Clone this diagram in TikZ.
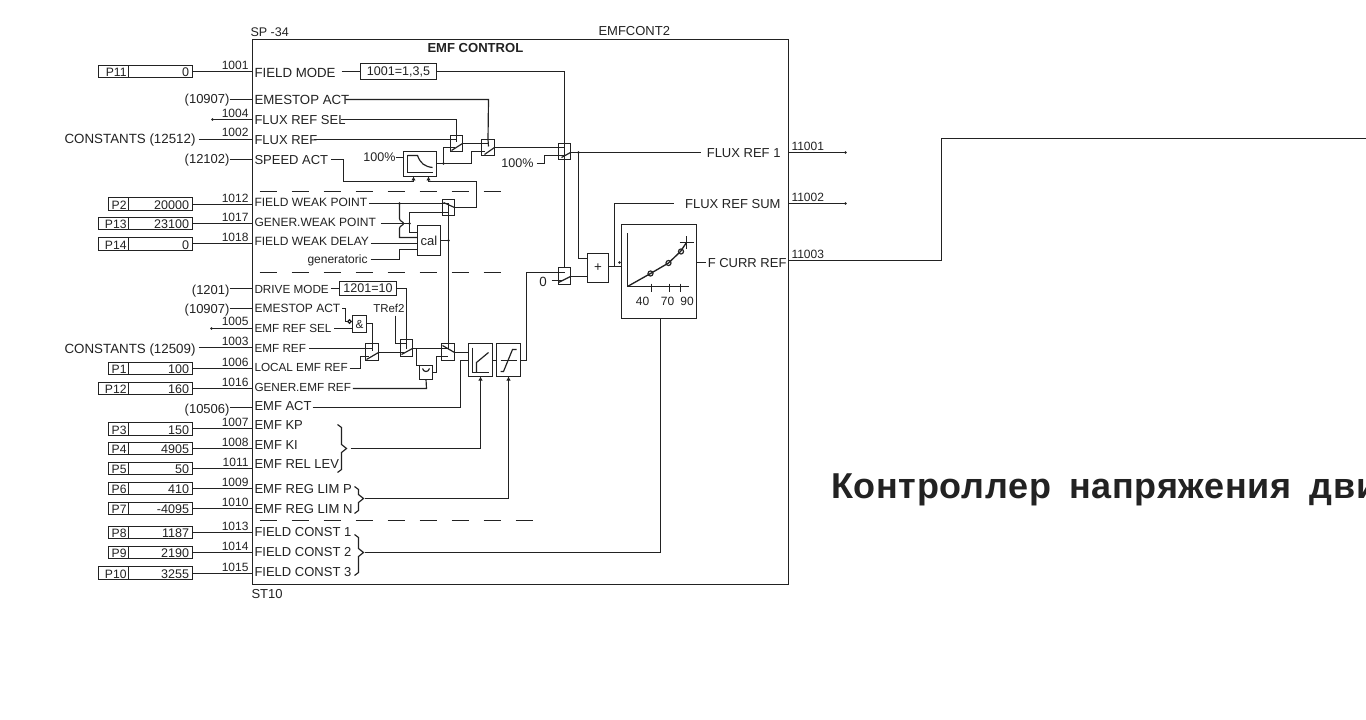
\documentclass[tikz,border=0pt]{standalone}
\usepackage{fontspec}
\setmainfont{Liberation Sans}
\usetikzlibrary{calc,arrows.meta}
\definecolor{ink}{HTML}{222222}
\tikzset{
  ln/.style={draw=ink,line width=.88pt},
  bx/.style={draw=ink,line width=.75pt,inner sep=0pt,outer sep=0pt,rectangle,text=ink},
  txt/.style={inner sep=0pt,outer sep=0pt,text=ink},
  arr/.style={ln,-{Latex[length=3pt,width=3.4pt]}},
  dashline/.style={draw=ink,line width=.85pt,dash pattern=on 12.75pt off 11.25pt}
}
\newcommand\boxnode[5]{%
  \pgfmathsetmacro\bw{(#3-#1)*0.75}\pgfmathsetmacro\bh{(#4-#2)*0.75}%
  \node[bx,minimum width=\bw pt,minimum height=\bh pt] (#5) at ({(#1+#3)/2},{(#2+#4)/2}) {};}
\newcommand\boxtext[7][9]{%
  \pgfmathsetmacro\bw{(#4-#2)*0.75}\pgfmathsetmacro\bh{(#5-#3)*0.75}%
  \node[bx,minimum width=\bw pt,minimum height=\bh pt,font=\fontsize{#1}{#1}\selectfont] (#6) at ({(#2+#4)/2},{(#3+#5)/2}) {#7};}
\newcommand\lab[5][base west]{\node[txt,anchor=#1,font=\fontsize{#4}{#4}\selectfont] (#2) at (#3) {#5};}
\newcommand\dotat[1]{\fill[ink] (#1) circle[radius=1.1pt];}
\newcommand\from[3]{($(#1.east |- 0,#3)+(#2,0)$)}
% name left top bottom Pname value number liney
\newcommand\param[8]{%
  \boxnode{#2}{#3}{192}{#4}{p#1}
  \draw[bx] (128,#3) -- (128,#4);
  \pgfmathsetmacro\by{#4-1.2}\pgfmathsetmacro\cy{#4-0.6}\pgfmathsetmacro\ny{#8-2}%
  \lab[base east]{pn#1}{126,\by}{9.1}{#5}
  \lab[base east]{pv#1}{188.5,\cy}{9.4}{#6}
  \lab[base east]{pw#1}{248,\ny}{9}{#7}
  \draw[ln] (p#1.east |- 0,#8) -- (main.west |- 0,#8);}
\begin{document}
\begin{tikzpicture}[x=.75pt,y=-.75pt]
\useasboundingbox (0,0) rectangle (1366,720);
\fill[white] (0,0) rectangle (1366,720);
\begin{scope}[shift={(.5,.5)}]
\boxnode{252}{39}{788}{584}{main}
\lab{spt}{250,36}{9.4}{SP -34}
\lab{emfc}{598,35}{9.75}{EMFCONT2}
\lab{ttl}{427,52}{9.8}{\bfseries EMF CONTROL}
\lab{st}{251,598}{9.75}{ST10}
% left parameter rows
\param{11}{98}{65}{77}{P11}{0}{1001}{71}
\param{2}{108}{197}{210}{P2}{20000}{1012}{204}
\param{13}{98}{217}{229}{P13}{23100}{1017}{223}
\param{14}{98}{237}{250}{P14}{0}{1018}{243}
\param{1}{108}{362}{374}{P1}{100}{1006}{368}
\param{12}{98}{382}{394}{P12}{160}{1016}{388}
\param{3}{108}{422}{435}{P3}{150}{1007}{428}
\param{4}{108}{442}{454}{P4}{4905}{1008}{448}
\param{5}{108}{462}{474}{P5}{50}{1011}{468}
\param{6}{108}{482}{494}{P6}{410}{1009}{488}
\param{7}{108}{502}{514}{P7}{-4095}{1010}{508}
\param{8}{108}{526}{538}{P8}{1187}{1013}{532}
\param{9}{108}{546}{558}{P9}{2190}{1014}{552}
\param{10}{98}{566}{579}{P10}{3255}{1015}{573}
% left free texts
\lab[base east]{xa}{229,103.5}{9.75}{(10907)}
\draw[ln] (xa.east |- 0,99) -- (main.west |- 0,99);
\lab[base east]{n1004}{248,117}{9}{1004}
\coordinate (d1004) at (212,119); \dotat{d1004}
\draw[ln] (d1004) -- (main.west |- d1004);
\lab[base east]{n1002}{248,136}{9}{1002}
\lab[base east]{xb}{195,143.5}{10}{CONSTANTS (12512)}
\draw[ln] \from{xb}{3}{139} -- (main.west |- 0,139);
\lab[base east]{xc}{229,163.5}{9.75}{(12102)}
\draw[ln] (xc.east |- 0,159) -- (main.west |- 0,159);
\lab[base east]{xd}{229,293.5}{9.75}{(1201)}
\draw[ln] (xd.east |- 0,288) -- (main.west |- 0,288);
\lab[base east]{xe}{229,313}{9.75}{(10907)}
\draw[ln] (xe.east |- 0,308) -- (main.west |- 0,308);
\lab[base east]{n1005}{248,325}{9}{1005}
\coordinate (d1005) at (211,328); \dotat{d1005}
\draw[ln] (d1005) -- (main.west |- d1005);
\lab[base east]{n1003}{248,345}{9}{1003}
\lab[base east]{xf}{195,353}{10}{CONSTANTS (12509)}
\draw[ln] \from{xf}{3}{347} -- (main.west |- 0,347);
\lab[base east]{xg}{229,413}{9.75}{(10506)}
\draw[ln] (xg.east |- 0,407) -- (main.west |- 0,407);
% signal labels
\lab{sFM}{254,77}{9.95}{FIELD MODE}
\lab{sEA}{254,104}{9.95}{EMESTOP ACT}
\lab{sFS}{254,124}{9.75}{FLUX REF SEL}
\lab{sFR}{254,144}{9.75}{FLUX REF}
\lab{sSA}{254,164}{9.75}{SPEED ACT}
\lab{sFW}{254,206}{9}{FIELD WEAK POINT}
\lab{sGW}{254,226}{9}{GENER.WEAK POINT}
\lab{sFD}{254,245}{9}{FIELD WEAK DELAY}
\lab{sGN}{307,263}{9}{generatoric}
\lab{sDM}{254,293}{8.8}{DRIVE MODE}
\lab{sEB}{254,312}{9}{EMESTOP ACT}
\lab{sES}{254,332}{8.8}{EMF REF SEL}
\lab{sER}{254,352}{8.8}{EMF REF}
\lab{sLE}{254,371}{8.8}{LOCAL EMF REF}
\lab{sGE}{254,391}{8.8}{GENER.EMF REF}
\lab{sEC}{254,410}{9.75}{EMF ACT}
\lab{sKP}{254,429}{9.75}{EMF KP}
\lab{sKI}{254,449}{9.75}{EMF KI}
\lab{sRL}{254,468}{9.75}{EMF REL LEV}
\lab{sLP}{254,493}{9.8}{EMF REG LIM P}
\lab{sLN}{254,513}{9.8}{EMF REG LIM N}
\lab{sC1}{254,536}{9.75}{FIELD CONST 1}
\lab{sC2}{254,556}{9.75}{FIELD CONST 2}
\lab{sC3}{254,576}{9.75}{FIELD CONST 3}
\lab[base east]{oF1}{780,157}{9.75}{FLUX REF 1}
\lab[base east]{oFS}{780,208}{9.75}{FLUX REF SUM}
\lab[base east]{oFC}{786,267}{9.75}{F CURR REF}
% dashed separators
\coordinate (da1) at (259,191); \coordinate (da2) at (501,191);
\coordinate (db1) at (259,272); \coordinate (db2) at (501,272);
\coordinate (dc1) at (259,520); \coordinate (dc2) at (532,520);
\draw[dashline] (da1) -- (da2);
\draw[dashline] (db1) -- (db2);
\draw[dashline] (dc1) -- (dc2);
% blocks
\boxtext[9.4]{360}{63}{436}{79}{bFM}{1001=1,3,5}
\boxtext[9.4]{339}{281}{396}{295}{bDM}{1201=10}
\boxnode{450}{135}{462}{151}{swA}
\boxnode{481}{139}{494}{155}{swB}
\boxnode{558}{143}{570}{159}{swC}
\boxnode{442}{199}{454}{215}{swD}
\boxnode{558}{267}{570}{284}{swE}
\boxnode{365}{343}{378}{360}{swF}
\boxnode{400}{339}{412}{356}{swG}
\boxnode{441}{343}{454}{360}{swH}
\boxnode{403}{151}{436}{176}{bLim}
\boxtext[9.75]{417}{225}{440}{255}{bCal}{cal}
\boxtext[8.8]{352}{315}{366}{332}{bAnd}{\&}
\boxnode{419}{365}{432}{379}{bMin}
\boxnode{468}{343}{492}{376}{bPI}
\boxnode{496}{343}{520}{376}{bLm}
\boxtext[10]{587}{253}{608}{282}{bAdd}{+}
\boxnode{621}{224}{696}{318}{bCur}
% top wires
\draw[ln] \from{sFM}{6}{71} -- (bFM.west);
\draw[ln] (bFM.east) -- (564,71) -- (swC.north);
\draw[ln] (swC.north) -- (swE.north);
\draw[ln] \from{sEA}{-4}{99} -- (488,99) -- (swB.north);
\draw[ln] \from{sFS}{-5}{119} -- (456,119) -- (swA.north);
\draw[ln] \from{sFR}{-3}{139} -- (456,139);
\draw[ln] (swA.north) -- (456,142);
\draw[ln] (swB.north) -- (488,146);
\draw[ln] (swA.east |- 0,143) -- (swB.west |- 0,143);
\draw[ln] (443,163) -- (443,147) -- (454,147);
\draw[ln] (bLim.east |- 0,163) -- (471,163) -- (471,151) -- (484,151);
\dotat{443,163}
\draw[ln] (481,143) -- (488,143);
\draw[ln] (swB.east |- 0,147) -- (swC.west |- 0,147) -- (564,147);
% switch blades
\draw[ln] (451,150) -- (462,143);
\draw[ln] (484,154) -- (494,147);
\draw[ln] (561,157) -- (570,152);
\draw[ln] (443,202) -- (454,207);
\draw[ln] (558,282) -- (570,276);
\draw[ln] (366,359) -- (378,352);
\draw[ln] (401,354) -- (412,348);
\draw[ln] (442,345) -- (454,352);
% 100 percent and limiter
\lab[base east]{t100a}{395,161}{9.4}{100\%}
\draw[ln] (t100a.east |- 0,157) -- (bLim.west |- 0,157);
\draw[ln] (407,155) -- (407,172) -- (432,172);
\draw[ln] (407,155) -- (417,155) .. controls (420,163) and (424,166) .. (432,167);
\draw[arr] \from{sSA}{3}{159} -- (343,159) -- (343,181) -- (413,181) -- (bLim.south -| 413,0);
\draw[arr] (476,207) -- (476,181) -- (428,181) -- (bLim.south -| 428,0);
\draw[ln] (swD.east |- 0,207) -- (476,207);
% second 100 percent
\lab[base east]{t100b}{533,167}{9.4}{100\%}
\draw[ln] (t100b.east |- 0,163) ++(3,0) -- (544,163) -- (544,155) -- (swC.west |- 0,155) -- (564,155);
% flux ref out
\coordinate (dF) at (578,152); \dotat{dF}
\draw[ln] (swC.east |- 0,152) -- (700,152);
\draw[ln] (dF) -- (578,258) -- (bAdd.west |- 0,258);
\draw[ln] (swE.east |- 0,276) -- (bAdd.west |- 0,276);
\draw[ln] (bAdd.east |- 0,266) -- (bCur.west |- 0,266);
\draw[ln] (614,266) -- (614,203) -- (673,203);
\coordinate (dA) at (619,262); \dotat{dA}
\draw[ln] (bCur.east |- 0,262) -- (705,262);
% curve box
\draw[ln] (627,233) -- (627,286) -- (688,286);
\draw[ln] (651,283) -- (651,291) (669,283) -- (669,291) (680,283) -- (680,291);
\lab[base]{c40}{642,305}{9}{40}
\lab[base]{c70}{667,305}{9}{70}
\lab[base]{c90}{686.5,305}{9}{90}
\draw[ln,line width=1pt] (627,286) -- (650,273) -- (668,262.5) -- (680,251) -- (686,242);
\foreach \a/\b in {650/273,668/262.5,680.5/251}{\draw[ln] (\a,\b) circle[radius=1.9pt];}
\draw[ln,line width=.9pt] (679,242) -- (693,242) (686,236) -- (686,249);
% field weak section
\draw[ln] \from{sFW}{2}{203} -- (swD.west |- 0,203) -- (448,203);
\dotat{399,203}
\draw[ln] (399,203) -- (399,218) .. controls (399,221) and (403,221) .. (403,223) .. controls (403,225) and (399,225) .. (399,228) -- (399,237) -- (bCal.west |- 0,237);
\draw[ln] \from{sGW}{5}{223} -- (409,223);
\dotat{409,223}
\draw[ln] (swD.west |- 0,212) -- (409,212) -- (409,232) -- (bCal.west |- 0,232);
\draw[ln] (442,212) -- (447,212);
\draw[ln] \from{sFD}{2}{243} -- (bCal.west |- 0,243);
\draw[ln] \from{sGN}{3}{259} -- (399,259) -- (399,249) -- (bCal.west |- 0,249);
\draw[ln] (bCal.east) -- (448,240); \dotat{448,240}
\draw[ln] (448,205) -- (swH.north -| 448,0) -- (448,348);
% drive mode and EMF section
\draw[ln] \from{sDM}{2}{288} -- (bDM.west);
\draw[ln] (bDM.east) -- (406,288) -- (406,348);
\lab[base east]{tr}{404,312}{8.6}{TRef2}
\draw[ln] (395,315) -- (395,343) -- (406,343);
\draw[ln] \from{sEB}{2}{308} -- (345,308) -- (345,321) -- (347.3,321);
\draw[ln,fill=white] (349,321) circle[radius=1.3pt];
\draw[ln] \from{sES}{3}{328} -- (bAnd.west |- 0,328);
\draw[ln] (bAnd.east |- 0,323) -- (372,323) -- (372,350);
\draw[ln] \from{sER}{3}{348} -- (372,348);
\draw[ln] \from{sLE}{2}{368} -- (360,368) -- (360,356) -- (368,356);
\draw[ln] (swF.east |- 0,352) -- (403,352);
\draw[ln] (swG.east |- 0,348) -- (447,348);
\draw[ln] (416,348) -- (416,365) -- (419,365);
\draw[ln] (bMin.east |- 0,372) -- (436,372) -- (436,356) -- (447,356);
\draw[ln] \from{sGE}{2}{388} -- (426,388) -- (bMin.south);
\draw[ln] (422,368) .. controls (423,372) and (428,372) .. (429,368);
\draw[ln] (swH.east |- 0,352) -- (bPI.west |- 0,352);
\draw[ln] \from{sEC}{1}{407} -- (460,407) -- (460,360) -- (bPI.west |- 0,360);
\draw[ln] (bPI.east |- 0,360) -- (bLm.west |- 0,360);
\draw[ln] (bLm.east |- 0,360) -- (526,360) -- (526,272) -- (564,272);
\draw[ln] (472,347) -- (472,372) -- (488,372);
\draw[ln] (476,372) -- (476,362) -- (488,352);
\draw[ln] (500,360) -- (516,360);
\draw[ln] (500,371) -- (503,371) -- (512,349) -- (516,349);
\lab[base]{c0}{542.5,286}{10}{0}
\draw[ln] (551,280) -- (561,280);
% braces
\draw[ln] (337,424) -- (341,427) -- (341,444) -- (346,448) -- (341,452) -- (341,469) -- (337,472);
\draw[ln] (354,486) -- (358,489) -- (358,494) -- (363,498) -- (358,502) -- (358,510) -- (354,513);
\draw[ln] (354,534) -- (358,537) -- (358,548) -- (363,552) -- (358,556) -- (358,572) -- (354,575);
\coordinate (brA) at (350,448); \coordinate (brB) at (364,498); \coordinate (brC) at (364,552);
\draw[arr] (brA) -- (480,448) -- (bPI.south -| 480,0);
\draw[arr] (brB) -- (508,498) -- (bLm.south -| 508,0);
\draw[ln] (brC) -- (660,552) -- (bCur.south -| 660,0);
% right outputs
\coordinate (o1) at (845,152); \coordinate (o2) at (845,203); \coordinate (o3) at (941,260); \coordinate (o4) at (941,138); \coordinate (o5) at (1366,138);
\draw[ln] (main.east |- o1) -- (o1); \dotat{o1}
\draw[ln] (main.east |- o2) -- (o2); \dotat{o2}
\draw[ln] (main.east |- o3) -- (o3) -- (o4) -- (o5);
\lab{n1}{791,150}{9}{11001}
\lab{n2}{791,201}{9}{11002}
\lab{n3}{791,258}{9}{11003}
\end{scope}
% title
\begin{scope}
\clip (0,0) rectangle (1366,720);
\lab{title}{831,498.5}{27}{\bfseries\addfontfeature{LetterSpace=2}Контроллер\hspace{5.5pt} напряжения\hspace{5.5pt} дви}
\end{scope}
\end{tikzpicture}
\end{document}
